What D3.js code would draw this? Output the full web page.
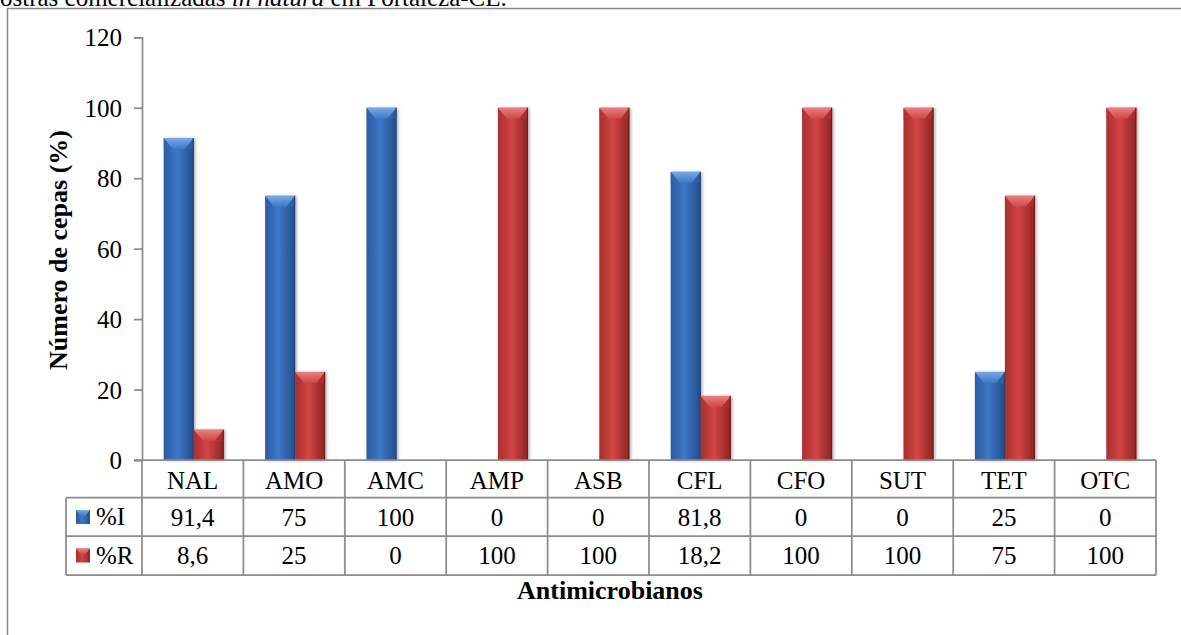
<!DOCTYPE html>
<html>
<head>
<meta charset="utf-8">
<script src="https://cdn.jsdelivr.net/npm/d3@7"></script>
<style>
  html, body { margin: 0; padding: 0; background: #fff; }
  svg { display: block; }
  svg text { font-family: "Liberation Serif", "Times New Roman", "DejaVu Serif", serif; fill: #000; }
</style>
</head>
<body>
<svg id="chart" width="1181" height="635" font-family="Liberation Serif, Times New Roman, serif"></svg>
<script>
// Antimicrobial susceptibility per drug (% of strains)
const categories = ["NAL", "AMO", "AMC", "AMP", "ASB", "CFL", "CFO", "SUT", "TET", "OTC"];
const seriesNames = ["%I", "%R"];
const valuesI = [91.4, 75, 100, 0, 0, 81.8, 0, 0, 25, 0];
const valuesR = [8.6, 25, 0, 100, 100, 18.2, 100, 100, 75, 100];
const labelsI = ["91,4", "75", "100", "0", "0", "81,8", "0", "0", "25", "0"];
const labelsR = ["8,6", "25", "0", "100", "100", "18,2", "100", "100", "75", "100"];
const yTicks = [0, 20, 40, 60, 80, 100, 120];

const FONT = "Liberation Serif, Times New Roman, serif";
const svg = d3.select("#chart");
const W = 1181, H = 635;
svg.append("rect").attr("width", W).attr("height", H).attr("fill", "#fff");

const gridColor = "#8c8c8c";
const plotLeft = 142, plotRight = 1156, plotTop = 37.3, plotBottom = 460;
const rowY = [460, 497.5, 536, 575];
const legendLeft = 66;

// colour styles for the two series
const styles = {
  "%I": { left: "#2b5aa0", mid: "#3d78c8", right: "#234d8a", bevel: "#79a8e6", bevelSide: "#3566ad", edge: "#1d3f73" },
  "%R": { left: "#a82e2e", mid: "#d24545", right: "#8f2323", bevel: "#e88080", bevelSide: "#b83535", edge: "#6e1a1a" }
};

const defs = svg.append("defs");
Object.entries(styles).forEach(([k, s], i) => {
  const g = defs.append("linearGradient").attr("id", "grad" + i)
    .attr("x1", "0").attr("x2", "1").attr("y1", "0").attr("y2", "0");
  g.append("stop").attr("offset", "0%").attr("stop-color", s.left);
  g.append("stop").attr("offset", "45%").attr("stop-color", s.mid);
  g.append("stop").attr("offset", "100%").attr("stop-color", s.right);
  const t = defs.append("linearGradient").attr("id", "bevel" + i)
    .attr("x1", "0").attr("x2", "0").attr("y1", "0").attr("y2", "1");
  t.append("stop").attr("offset", "0%").attr("stop-color", s.bevel);
  t.append("stop").attr("offset", "100%").attr("stop-color", s.mid);
});
const shadow = defs.append("filter").attr("id", "shadow")
  .attr("x", "-30%").attr("y", "-10%").attr("width", "160%").attr("height", "120%");
shadow.append("feDropShadow").attr("dx", 1.5).attr("dy", 0.5)
  .attr("stdDeviation", 1.6).attr("flood-color", "#000").attr("flood-opacity", 0.35);

// outer frame (top and left edges)
svg.append("path")
  .attr("d", `M7.5,${H} V8.5 H${W}`)
  .attr("fill", "none").attr("stroke", "#8a8a8a").attr("stroke-width", 1.5);

// caption fragment above the frame
const cap = svg.append("text").attr("x", 0).attr("y", 6).attr("font-size", 25).attr("font-family", FONT);
cap.append("tspan").text("ostras comercializadas ");
cap.append("tspan").attr("font-style", "italic").text("in natura");
cap.append("tspan").text(" em Fortaleza-CE.");

// scales
const x0 = d3.scaleBand().domain(categories).range([plotLeft, plotRight]).padding(0);
const groupW = 60;
const x1 = d3.scaleBand().domain(seriesNames)
  .range([(x0.bandwidth() - groupW) / 2 + 1, (x0.bandwidth() + groupW) / 2 + 1]).padding(0);
const y = d3.scaleLinear().domain([0, 120]).range([plotBottom, plotTop]);

// y axis
const yAxis = d3.axisLeft(y).tickValues(yTicks).tickSize(8).tickPadding(12).tickSizeOuter(8);
const ya = svg.append("g").attr("transform", `translate(${plotLeft},0)`).call(yAxis)
  .attr("font-family", FONT);
ya.select(".domain").attr("stroke", gridColor).attr("stroke-width", 1.75);
ya.selectAll(".tick line").attr("stroke", gridColor).attr("stroke-width", 1.75);
ya.selectAll(".tick text").attr("font-size", 25)
  .attr("font-family", FONT).attr("fill", "#000").attr("dy", "0.34em");

// y axis title
svg.append("text")
  .attr("transform", `translate(67,250) rotate(-90)`)
  .attr("text-anchor", "middle").attr("font-size", 26).attr("font-weight", "bold")
  .attr("font-family", FONT)
  .text("Número de cepas (%)");

// bars
const data = categories.map((c, i) => ({ cat: c, vals: [
  { key: "%I", v: valuesI[i], si: 0 },
  { key: "%R", v: valuesR[i], si: 1 }
]}));

const groups = svg.append("g").selectAll("g").data(data).join("g")
  .attr("transform", d => `translate(${x0(d.cat)},0)`);

const bars = groups.selectAll("g.bar").data(d => d.vals.filter(v => v.v > 0)).join("g").attr("class", "bar");

bars.each(function(d) {
  const g = d3.select(this);
  const s = styles[d.key];
  const bx = x1(d.key), bw = x1.bandwidth();
  const top = y(d.v), bottom = y(0);
  const bev = Math.min(11, (bottom - top) / 2);
  g.append("rect").attr("x", bx).attr("y", top).attr("width", bw).attr("height", bottom - top)
    .attr("fill", `url(#grad${d.si})`).attr("filter", "url(#shadow)");
  // bevel: side facets then lighter top facet
  g.append("path")
    .attr("d", `M${bx},${top} L${bx + bw * 0.3},${top + bev} L${bx + bw * 0.7},${top + bev} L${bx + bw},${top} L${bx + bw},${top + bev} L${bx},${top + bev} Z`)
    .attr("fill", s.bevelSide).attr("opacity", 0.55);
  g.append("path")
    .attr("d", `M${bx},${top} L${bx + bw},${top} L${bx + bw * 0.7},${top + bev} L${bx + bw * 0.3},${top + bev} Z`)
    .attr("fill", `url(#bevel${d.si})`);
  // dark right edge
  g.append("line").attr("x1", bx + bw - 0.5).attr("x2", bx + bw - 0.5).attr("y1", top).attr("y2", bottom)
    .attr("stroke", s.edge).attr("stroke-width", 1);
});

// data table grid
const grid = svg.append("g").attr("stroke", gridColor).attr("stroke-width", 1.75).attr("fill", "none");
grid.append("line").attr("x1", plotLeft - 8).attr("x2", plotRight).attr("y1", rowY[0]).attr("y2", rowY[0]);
[1, 2, 3].forEach(r => grid.append("line").attr("x1", legendLeft).attr("x2", plotRight)
  .attr("y1", rowY[r]).attr("y2", rowY[r]));
grid.append("line").attr("x1", legendLeft).attr("x2", legendLeft).attr("y1", rowY[1]).attr("y2", rowY[3]);
categories.forEach(c => grid.append("line").attr("x1", x0(c)).attr("x2", x0(c))
  .attr("y1", rowY[0]).attr("y2", rowY[3]));
grid.append("line").attr("x1", plotRight).attr("x2", plotRight).attr("y1", rowY[0]).attr("y2", rowY[3]);

// table text
const tbl = svg.append("g").attr("font-size", 25).attr("text-anchor", "middle").attr("font-family", FONT);
categories.forEach((c, i) => {
  const cx = x0(c) + x0.bandwidth() / 2;
  tbl.append("text").attr("x", cx).attr("y", 488.5).text(c);
  tbl.append("text").attr("x", cx).attr("y", 526).text(labelsI[i]);
  tbl.append("text").attr("x", cx).attr("y", 564).text(labelsR[i]);
});

// legend keys in the table
const legendRows = [{ key: "%I", si: 0, y: 510 }, { key: "%R", si: 1, y: 548.5 }];
legendRows.forEach(r => {
  const kx = 76, ks = 14;
  svg.append("rect").attr("x", kx).attr("y", r.y).attr("width", ks).attr("height", ks)
    .attr("fill", `url(#grad${r.si})`);
  svg.append("path")
    .attr("d", `M${kx},${r.y} L${kx + ks},${r.y} L${kx + ks * 0.65},${r.y + 6} L${kx + ks * 0.35},${r.y + 6} Z`)
    .attr("fill", `url(#bevel${r.si})`);
  svg.append("text").attr("x", 96).attr("y", r.y + 15).attr("font-size", 25)
    .attr("font-family", FONT).text(r.key);
});

// x axis title
svg.append("text").attr("x", 610).attr("y", 599)
  .attr("text-anchor", "middle").attr("font-size", 26).attr("font-weight", "bold")
  .attr("font-family", FONT)
  .text("Antimicrobianos");
</script>
</body>
</html>
